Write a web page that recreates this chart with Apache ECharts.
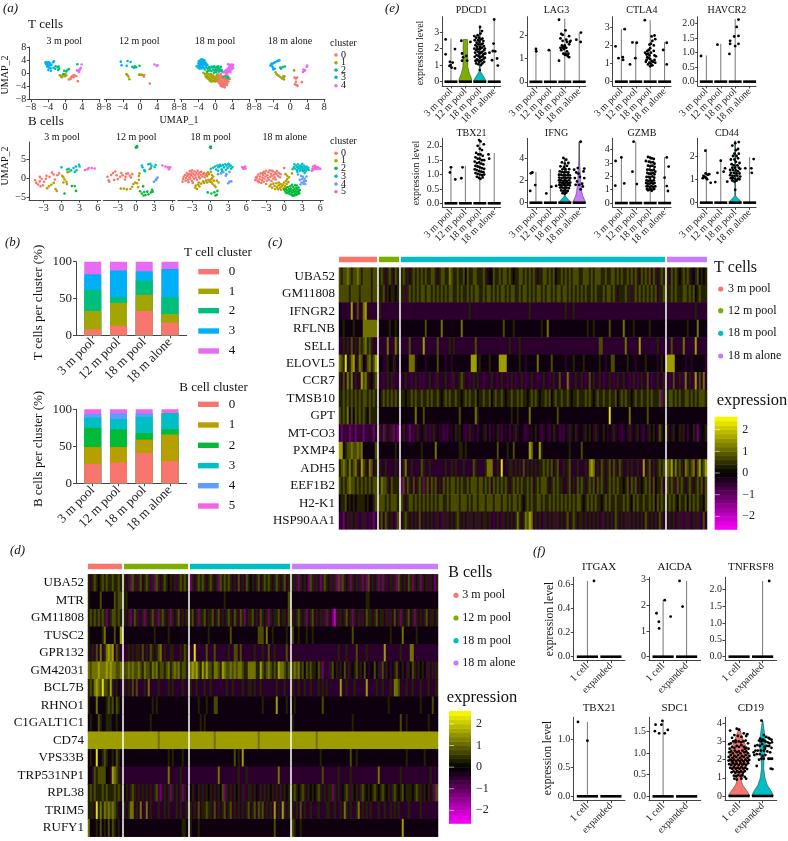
<!DOCTYPE html>
<html>
<head>
<meta charset="utf-8">
<title>T and B cell clusters</title>
<script src="https://cdn.jsdelivr.net/npm/echarts@6/dist/echarts.min.js"></script>
<style>
html,body{margin:0;padding:0;background:#fff}
#chart{width:788px;height:841px}
</style>
</head>
<body>
<div id="chart"></div>
<script>
// ---- names
const ageGroups = ['3 m pool', '12 m pool', '18 m pool', '18 m alone'];
const cloneGroups = ['1 cell', 'expanded'];
const tClusterColors = ['#F8766D', '#A3A500', '#00BF7D', '#00B0F6', '#E76BF3'];
const bClusterColors = ['#F8766D', '#B79F00', '#00BA38', '#00BFC4', '#619CFF', '#F564E3'];
const ageColors = ['#F8766D', '#7CAE00', '#00BFC4', '#C77CFF'];
const cloneColors = ['#F8766D', '#00BFC4'];

// ---- panel a, UMAP points, one list per cluster
const tUmap3m = [
  [[0.9,-1.9],[1.3,-1.7],[1.6,-1.0],[1.9,-0.7],[2.2,-0.5],[1.4,-1.3],[2.0,-1.2],[3.0,-2.4],[2.6,-0.9]],
  [[-1.2,-0.6],[-0.9,-1.0],[-0.6,-0.7],[-0.3,-0.4],[0.1,-0.2],[-0.7,-1.2],[0,-0.9],[0.3,-0.6]],
  [[-2.2,2.2],[-1.7,1.9],[-1.4,1.4],[-1.5,2.1],[-2.3,1.4],[-0.2,0.8],[0.3,0.6],[0.9,1.3],[0.6,1.0],[-0.4,-0.2],[2.9,2.8],[-1.6,1.0]],
  [[-4.6,3.3],[-4.3,3.5],[-4.1,3.1],[-3.8,3.4],[-3.5,3.0],[-4.4,2.8],[-4.0,2.6],[-3.6,2.4],[-3.2,2.6],[-4.2,2.1],[-3.8,1.8],[-3.4,1.6],[-3.9,1.0],[-3.3,0.8],[-2.8,3.4],[-2.6,3.7],[-2.7,1.7]],
  [[2.8,0.9],[3.1,0.7],[3.4,1.2],[3.7,1.7],[3.3,0.4],[3.9,2.7],[3.5,1.1]]
];
const tUmap12m = [
  [[0.9,-1.0],[1.0,-0.5],[2.3,-3.1]],
  [[-3.2,-0.2],[-3.0,-0.5],[-2.7,-1.0],[-2.5,-1.8],[-0.2,-0.4],[0.2,-0.4],[0.6,-0.5]],
  [[-1.8,2.0],[-1.4,1.7],[-1.2,2.2],[-0.9,1.9],[-0.1,2.3]],
  [[-4.5,3.6],[-2.9,3.8],[-2.2,3.5],[-4.3,2.5],[-3.1,2.3]],
  [[3.4,2.7],[3.9,2.3],[4.1,2.5]]
];
const tUmap18m = [
  [[0.5,-2.5],[0.9,-3.0],[1.2,-3.4],[1.6,-3.7],[2.0,-3.9],[2.4,-3.6],[2.8,-3.1],[3.1,-2.5],[3.4,-1.7],[0.8,-2.2],[1.2,-2.6],[1.6,-3.0],[2.0,-3.2],[2.4,-2.9],[2.8,-2.4],[3.0,-1.8],[0.7,-1.5],[1.1,-1.9],[1.5,-2.3],[1.9,-2.6],[2.3,-2.2],[2.6,-1.8],[0.8,-0.9],[1.2,-1.3],[1.6,-1.6],[2.0,-1.9],[2.4,-1.5],[1.1,-0.6],[1.5,-0.9],[1.9,-1.3],[2.2,-0.8],[0.6,-0.3],[1.3,-3.9],[1.7,-4.1],[2.2,-4.3],[1.5,-2.7],[2.1,-3.5],[0.3,-1.1],[2.7,-3.6],[1.8,-3.4],[1.0,-2.5],[2.5,-2.5],[1.3,-0.2],[2.9,-0.7]],
  [[-2.8,0.2],[-2.5,-0.2],[-2.2,-0.4],[-1.9,-0.9],[-1.6,-1.2],[-1.3,-1.6],[-1.0,-1.9],[-0.7,-2.2],[-0.3,-2.4],[0,-2.5],[0.2,-2.1],[-1.9,0],[-1.5,-0.3],[-1.2,-0.7],[-0.9,-1.1],[-0.6,-1.4],[-0.2,-1.7],[0.1,-1.3],[-0.6,-0.6],[-1.0,-0.2],[-2.3,-1.0],[-1.6,-1.8],[-0.9,-2.6],[-0.4,-0.9],[0.3,-0.7],[-1.3,-2.3],[-0.1,-2.1],[-2.0,-1.4],[0.5,-1.8]],
  [[-2.5,1.2],[-2.1,1.8],[-1.8,1.4],[-1.5,1.9],[-1.2,1.5],[-0.9,2.1],[-0.6,1.8],[-0.3,2.2],[0,1.7],[0.3,2.0],[0.6,1.6],[-1.7,0.8],[-1.3,0.9],[-0.9,0.7],[-0.5,1.2],[-0.2,0.8],[0.1,1.1],[0.4,0.9],[0.8,1.2],[1.1,1.5],[1.2,0.8],[0.9,0.5],[0.2,0.3],[-0.3,0.2],[1.5,1.0],[1.7,0.4],[1.3,2.0],[-2.0,0.5],[2.8,-1.5],[3.1,-1.2],[1.9,-1.1],[2.5,-0.9],[0.7,2.2]],
  [[-4.1,1.8],[-4.4,2.2],[-3.9,2.4],[-3.6,2.0],[-3.2,1.6],[-3.0,2.0],[-2.7,1.7],[-4.0,3.0],[-3.7,3.2],[-3.4,3.0],[-3.1,3.3],[-2.8,3.0],[-2.5,2.7],[-3.9,3.7],[-3.6,3.8],[-3.3,3.9],[-3.0,3.8],[-2.7,3.6],[-3.5,4.2],[-3.2,4.3],[-2.9,4.2],[-2.6,4.0],[-3.8,2.7],[-3.5,2.5],[-3.2,2.7],[-2.9,2.4],[-3.4,3.5],[-3.1,3.6],[-2.4,3.4],[-2.2,3.0],[-1.9,2.6],[-3.7,1.4],[-2.2,2.3]],
  [[2.4,0.2],[2.7,0.6],[3.0,1.0],[3.3,1.3],[3.6,1.7],[3.9,2.1],[4.2,2.6],[3.8,2.7],[3.4,2.6],[2.9,0.2],[3.2,0.5],[3.5,0.9],[3.9,1.3],[2.2,0.7],[2.6,1.1],[3.0,1.5],[3.3,2.0],[3.7,2.3],[4.1,1.9],[2.6,-0.2],[2.0,0.3],[3.6,0.4],[3.0,2.8],[4.2,1.6]]
];
const tUmapAlone = [
  [[1.0,-1.3],[1.3,-1.6],[1.6,-1.3],[1.1,-3.4],[1.5,-3.6],[1.7,-3.9],[2.7,-2.7],[1.3,-2.6]],
  [[-3.5,0.3],[-3.2,-0.3],[-2.8,-0.7],[-2.4,-1.1],[-2.0,-1.6],[-1.6,-1.3],[-1.5,-1.9],[-1.4,-0.9],[-1.7,-1.0],[0.9,0.9]],
  [[-2.4,1.8],[-2.2,1.4],[-1.8,1.9],[-1.3,2.1]],
  [[-4.7,2.4],[-4.5,2.9],[-4.2,3.0],[-3.9,3.2],[-3.6,3.4],[-3.2,3.7],[-2.9,3.9],[-2.6,4.0],[-4.3,2.2],[-4.1,1.7],[-4.0,1.2],[-3.7,1.4]],
  [[3.0,0.4],[3.3,0.8],[3.5,1.0],[3.9,2.0],[4.0,2.4],[3.1,1.2]]
];
const bUmap3m = [
  [[-4.4,-0.6],[-4.2,-1.3],[-3.9,-1.7],[-3.5,-2.2],[-3.1,-1.9],[-2.9,-1.0],[-3.6,-0.9],[-3.3,-0.2],[-3.6,0.3],[-2.6,-0.2],[-2.0,0.3],[-1.6,1.4],[-1.3,0.9],[-0.7,0.7],[-0.4,1.2],[-1.1,-0.4],[-2.5,0.6]],
  [[-2.4,-2.7],[-2.1,-2.2],[-1.7,-1.8],[-1.3,-1.3],[-1.0,-2.9],[-0.8,-3.4],[0.1,0.6],[0.3,0.2],[0.5,-0.4],[0.8,-1.0],[0.9,-1.6],[0.3,-1.2],[1.0,1.5],[1.3,1.7]],
  [[0.5,-4.1],[1.7,-2.1],[2.2,-2.1],[2.4,-3.4]],
  [[0,2.8],[0.9,2.2],[1.2,2.4],[1.6,2.0],[2.0,2.6],[2.4,3.0],[2.9,3.5],[2.5,2.0],[3.0,3.0],[2.2,1.6]],
  [],
  [[3.9,2.1],[4.5,2.6],[5.0,2.6],[5.5,2.5],[4.3,2.3]]
];
const bUmap12m = [
  [[-4.7,0.3],[-4.5,-0.6],[-4.4,-1.0],[-4.1,0.8],[-3.8,1.3],[-3.4,1.7],[-3.2,0.7],[-3.0,-0.3],[-2.6,0.3],[-2.4,1.3],[-2.2,0.7],[-1.8,-0.4],[-1.6,1.1],[-1.3,1.2],[-1.0,0.6],[-0.6,1.0],[-0.8,0.1],[-1.7,0.3],[-3.6,-0.5]],
  [[-2.5,-2.8],[-2.0,-2.8],[-1.5,-3.0],[-0.9,-2.9],[-0.6,-2.3],[-0.4,-1.6],[-0.1,-1.2],[0.2,-1.4],[0.5,-0.5],[0.5,0.5],[0.6,1.2],[2.3,2.3],[0.4,-2.4]],
  [[0.1,8.2],[0.2,8.4],[0.0,8.0],[0.2,8.1],[0.7,-3.5],[1.0,-4.1],[1.4,-3.7],[1.6,-4.5],[1.9,-3.6],[2.1,-4.3],[2.5,-3.8],[2.7,-3.1],[2.8,-3.6],[1.3,-4.6],[1.2,-2.2]],
  [[1.0,3.3],[1.1,2.8],[1.4,2.1],[1.5,1.8],[2.1,3.6],[2.4,3.7],[2.6,3.2],[3.3,3.4],[3.1,2.9],[2.5,2.6]],
  [[3.0,-1.0],[3.3,-0.6],[3.4,-0.3],[3.6,0.1]],
  [[4.4,3.3],[4.9,3.0],[5.3,2.8],[5.5,2.3],[5.7,2.8]]
];
const bUmap18m = [
  [[-4.6,-1.0],[-4.5,-0.3],[-4.4,0.3],[-4.2,0.8],[-4.1,-0.7],[-4.0,0.0],[-3.9,1.3],[-3.8,0.5],[-3.7,-0.5],[-3.6,-1.1],[-3.5,1.0],[-3.4,1.8],[-3.4,0.2],[-3.3,-0.3],[-3.2,0.8],[-3.1,1.4],[-3.0,2.0],[-3.0,-0.8],[-2.9,0.4],[-2.8,1.1],[-2.7,-0.2],[-2.6,1.7],[-2.5,0.7],[-2.4,0.1],[-2.3,1.3],[-2.2,-0.5],[-2.1,1.9],[-2.0,0.9],[-1.9,0.3],[-1.8,1.4],[-1.7,-0.1],[-1.6,0.8],[-1.5,1.6],[-1.3,0.4],[-1.2,1.0],[-1.0,1.3],[-0.9,0.2],[-0.8,0.8],[-0.6,1.1],[-3.7,0.9],[-2.9,-1.3]],
  [[-2.5,-2.5],[-2.4,-2.0],[-2.2,-2.9],[-2.0,-1.7],[-1.9,-1.2],[-1.8,-2.2],[-1.5,-1.5],[-1.2,-0.9],[-1.0,-1.3],[-0.7,-0.7],[-0.5,-1.2],[-0.3,-0.5],[-0.1,-0.9],[0.1,-0.4],[0.2,-1.1],[0.3,-0.1],[0.4,-1.6],[0.6,-0.7],[0.7,-2.0],[0.9,-2.4],[0.3,0.8],[-0.2,1.0],[-0.4,1.5],[0.1,1.6],[0.5,0.4],[1.1,-0.7],[1.4,-1.2],[-0.5,0.5]],
  [[0.1,8.3],[0.0,8.1],[0.1,7.9],[-0.4,-3.8],[0.2,-4.1],[0.7,-3.8],[1.1,-4.4],[1.2,-3.4],[0.9,-4.6]],
  [[0.1,2.4],[0.5,2.7],[0.8,3.0],[1.0,2.2],[1.2,3.3],[1.4,2.8],[1.6,3.5],[1.8,3.1],[1.9,2.3],[2.1,3.4],[2.3,2.8],[2.5,3.6],[2.7,3.2],[2.9,2.6],[3.0,3.6],[3.2,3.0],[3.4,3.3],[3.5,2.4],[3.7,2.9],[2.0,1.8],[1.3,1.9],[2.6,2.1],[3.1,3.7],[1.5,3.2]],
  [[1.8,1.2],[2.2,1.5],[2.7,1.0],[3.2,1.6],[3.0,-1.4],[3.2,-1.0],[3.5,-0.9],[2.6,0.6],[1.3,1.0]],
  [[5.3,2.9],[5.5,2.7],[5.7,2.6],[5.9,2.5],[5.5,2.4],[5.8,3.0]]
];
const bUmapAlone = [
  [[-4.8,-0.6],[-4.7,0.1],[-4.6,-0.2],[-4.5,0.4],[-4.4,-0.8],[-4.3,0.9],[-4.2,-1.1],[-4.1,-0.3],[-4.0,0.4],[-3.9,1.2],[-3.8,-1.3],[-3.7,-0.6],[-3.6,0.1],[-3.5,0.8],[-3.4,1.6],[-3.4,-1.0],[-3.3,-0.2],[-3.2,1.2],[-3.1,0.4],[-3.0,1.9],[-3.0,-1.6],[-2.9,-0.7],[-2.8,0.7],[-2.7,0.0],[-2.6,1.5],[-2.5,-0.5],[-2.4,2.0],[-2.3,0.3],[-2.2,1.1],[-2.1,-0.8],[-2.0,0.6],[-1.9,1.7],[-1.8,-0.2],[-1.7,0.9],[-1.6,0.2],[-1.5,1.4],[-1.4,-0.4],[-1.3,1.0],[-1.2,1.8],[-1.0,0.5],[-0.9,1.3],[-0.7,0.2],[-0.6,1.0],[0,2.6],[-3.6,1.2],[-2.0,1.9]],
  [[-2.4,-2.2],[-2.2,-1.7],[-2.0,-2.6],[-1.8,-1.5],[-1.6,-2.1],[-1.5,-2.9],[-1.3,-1.4],[-1.2,-2.4],[-1.0,-3.0],[-0.9,-1.9],[-0.7,-2.6],[-0.6,-1.6],[-0.5,-3.1],[-0.4,-2.2],[-0.2,-1.7],[-0.1,-2.7],[0,-1.2],[0.1,-2.1],[0.3,-0.8],[0.4,-1.6],[0.5,-0.3],[0.7,-1.1],[0.3,-2.5],[-0.9,-1.2],[0.5,0.6],[0.2,1.0],[1.3,1.2],[0.8,0.2]],
  [[0,-3.1],[0.2,-3.6],[0.3,-2.9],[0.4,-4.0],[0.5,-3.3],[0.6,-2.4],[0.7,-3.8],[0.8,-3.0],[0.9,-4.2],[1.0,-2.2],[1.1,-3.5],[1.1,-2.8],[1.2,-4.4],[1.3,-3.9],[1.3,-1.8],[1.4,-3.2],[1.5,-2.4],[1.5,-4.5],[1.6,-3.6],[1.7,-2.9],[1.8,-4.1],[1.8,-1.9],[1.9,-3.4],[2.0,-4.5],[2.0,-2.6],[2.1,-3.8],[2.2,-3.0],[2.3,-4.2],[2.4,-3.5],[2.4,-2.5],[2.5,-4.0],[2.6,-3.2],[1.4,-4.7],[0.9,-3.5],[1.7,-4.6],[2.1,-2.0]],
  [[1.4,2.3],[1.6,2.9],[1.7,3.6],[1.8,2.5],[2.0,3.2],[2.1,2.1],[2.2,2.8],[2.3,3.6],[2.4,2.4],[2.5,3.1],[2.6,1.9],[2.7,2.6],[2.8,3.3],[2.9,2.2],[3.0,2.9],[3.1,1.8],[3.2,2.5],[3.3,3.2],[3.4,2.1],[3.5,2.7],[3.6,1.8],[3.7,3.0],[3.8,2.3],[4.0,2.7],[4.1,2.1],[3.0,3.7],[2.2,1.6],[3.4,1.3]],
  [[2.3,0.9],[2.6,-0.5],[2.8,0.5],[2.9,-1.2],[3.0,-0.3],[3.1,0.3],[3.2,-1.5],[3.3,-0.9],[3.4,-0.2],[3.5,-1.6],[3.6,-0.8],[3.7,0.4],[2.7,-1.7]],
  [[4.6,1.9],[4.7,2.4],[4.8,3.0],[4.9,2.2],[5.0,2.7],[5.1,3.3],[5.2,2.5],[5.3,2.9],[5.4,2.3],[5.6,2.8],[5.8,2.5],[6.0,2.4]]
];

// ---- panel b, percent of cells per cluster, each list is one age group read bottom to top
const tClusterShare = [[8,25,29,21,17],[13,31,8,36,12],[33,22,19,13,13],[17,12,23,38,10]];
const bClusterShare = [[26,23,26,14,5,6],[28,21,24,14,8,5],[41,18,9,22,5,5],[30,36,7,22,0,5]];

// ---- panels c and d, one string per gene, each digit is an index into exprLevels
const exprLevels = [-2, -1.1, -0.65, -0.45, -0.15, 0.35, 0.75, 1.15, 1.6, 2.3];
const cGenes = ['UBA52','GM11808','IFNGR2','RFLNB','SELL','ELOVL5','CCR7','TMSB10','GPT','MT-CO3','PXMP4','ADH5','EEF1B2','H2-K1','HSP90AA1'];
const cGroupSizes = [19, 10, 132, 20];
const cRows = [
  '6566765667656666566|5653565365|5655356565 6565566535 6655765565 5646556655 5653446556 5665654556 6565656535 5665656455 6565656665 5666565666 5565566565 6556565653 6565636535 65|53656545656534564545',
  '6666656666566666566|5563545545|5525656565 6656656565 6565665565 6556565665 5656656565 6656566556 5665656566 5656656566 5665656565 6565565655 5656656535 5565525656 5656565635 56|55656555665656456555',
  '4333338336337833333|5333333333|3333333333 3333333333 3333333333 3333533333 3333333333 3333333333 3333533333 3333333333 3353335333 3333333333 3333333333 3333333333 3333333333 33|33333333333333533333',
  '4454444544447777777|4444454454|4444444444 4464444444 7444444444 7444444444 4444444444 4644445444 4444444444 5447444444 4444444444 4445445444 4444644444 4744445444 4444544444 44|44444444445444474444',
  '3353536353656756533|3333733375|3333633333 3833333363 3333535333 3333333633 3333333333 3333533335 3333333333 3333333333 3333333333 3333333336 6333333333 3373333338 3333333353 33|33633333733333833333',
  '7659357835764367568|4433544534|4444777344 4434444464 4434434444 4444488845 4444544448 8884444445 4434444474 4444464444 4434445444 4544444445 4434466444 4445444344 4454444434 54|88884444434434444443',
  '5363757353386753456|3323535233|3353323532 3233533253 3353325335 6533235353 3233353323 5332353233 5323353323 3533235336 3337233533 5323635335 3233532353 3533235323 5336323353 35|32363353273532836373',
  '5565656565656656565|4565656565|5545565655 6556565565 4565655655 4565655645 5655645655 6545565565 6554565654 5565645655 6556545565 5565654565 5655655645 6565545655 6556565556 15|56656565566565656665',
  '6565746465656546555|4444444444|4444444744 4644444444 4444444446 4444444754 4444444444 4444454454 4444744444 4444444464 4444444444 4444444444 4444944444 4444744444 4446444444 44|44444444444444444444',
  '3132312313231323313|5315325131|3533132353 4353235343 3232434535 4323533424 4354243453 2434243534 4323434543 2343245342 3243534534 4354543534 4543435343 2343534354 3243545436 54|54354453542445314445',
  '8845667667674444446|4444444454|4444444444 5444444744 4444444445 5454444444 4444444464 4445446444 4444874448 5444444444 4444544444 6444444444 4444444444 4444444444 4444444444 44|44444444444444444444',
  '5676575675386537635|5335333353|3573353333 6533533333 3353353533 3533336533 3357773353 9433553535 3635353535 5656563563 3535633353 3353787353 6535636536 5335353353 3835635356 56|76857565376567368568',
  '6565676656565656566|5766536555|1636536356 5156365635 3656566565 6556566656 6565636565 6565356565 6556563565 6665356565 5335635365 6535656365 6535656565 5456365635 4565636455 63|65652656535653565636',
  '4556454545555454456|6665656665|6535665656 5656565656 6556566665 6665656656 6656665666 5665656656 5456565566 5655656565 6565656566 5456565655 4565655655 5656546565 5655656465 65|56565465564656565546',
  '2313525352325232313|5636535326|3565353536 3535353253 2525353565 3535253525 3553532353 2535353575 3576873535 3253535253 5356356535 5353535353 2535353653 5352535353 5365353536 53|35353252325235252363'
];
const dGenes = ['UBA52','MTR','GM11808','TUSC2','GPR132','GM42031','BCL7B','RHNO1','C1GALT1C1','CD74','VPS33B','TRP531NP1','RPL38','TRIM5','RUFY1'];
const dGroupSizes = [17, 32, 50, 73];
const dRows = [
  '53565456565565565|5351652563 5652516535 6545352565 65|1535656535 6535165656 5353635365 4535635656 5356535635|5251535316 5253156535 2516165351 5352515163 5351515235 2516535365 1535153525 315',
  '54444464444446566|5544444444 4444444444 4444444444 44|4444444444 4444444544 4444444444 4444444444 4444444446|4444444444 4444444444 4444444444 4444444554 4444444444 4444444444 4444444444 444',
  '56565656513566565|5351365235 1535625156 5351535635 35|5635155635 5635635356 5365365135 5635365351 5355635536|5356535135 6353525153 1052535635 1535253655 3563553525 3635153563 5153535635 535',
  '54444445744446448|4444444444 4444454444 4454444444 44|4444444445 4444444444 6444444444 4444666474 4544444454|6445444544 5444444444 4444444444 6444444444 4444444445 4444474444 4454444444 444',
  '53536373578783653|3353535536 3536535673 5335533353 65|3393333363 3363333335 3366363333 3353335336 3353333363|3333333333 3333333333 3335333533 3363333533 3333338333 3333533337 7333333333 333',
  '76777877787877667|6676766765 7665767566 5675676756 65|7878658686 6577658766 7676776557 7775586567 6565877656|6767564656 5546513325 6453546353 4563546434 4645263542 4563454254 6535454253 525',
  '56578769665853543|5353636333 5373333533 3353533335 33|5335333533 5333333353 3533335335 5353353333 3335333533|5335335335 3335353533 3333833533 3533333833 3353353335 3776333533 5333533353 335',
  '54447444456564654|4444444444 4444545444 4444444444 44|4444544454 4466444444 4444444444 4444445444 4448444454|4544444444 4444464444 4444444444 4444444444 4444444454 4444444444 4444544444 644',
  '45444654455544544|4444444444 4445444444 4444444444 44|4444454544 4444444444 4444444444 4444444444 4444444444|5444444444 4444444444 4444444444 5444444444 4444444444 4444644544 4444444454 444',
  '88888888888888888|8888888888 8888888788 8888888888 88|8888888888 8878888888 8888888888 8888788888 8888888888|8888888888 8878888888 8888888888 8888888888 8888888888 8888888888 8888888888 888',
  '45449445654454654|4444444444 4444444444 4454544445 44|4444444444 4444444444 4464548444 4444444444 4444444444|4444444444 4444544444 4444444446 4454444444 4444444444 4444444544 4444445444 444',
  '44365666644387653|3333333333 3333333333 3373333353 33|3333333333 3333733333 3333533353 3333333333 3333733333|3333333333 3333363333 3335333335 3333333333 3337333333 3333533333 3333333335 333',
  '56565556565556565|4535653535 3535356213 5351535351 53|4534535354 5353546153 5354535235 5354353535 4535353545|5654565354 5456535355 1535345652 5453565454 5654565453 5654564555 4565535453 516',
  '55539575767676534|5357735373 3735333533 5353335353 35|5353635565 5363535635 6353535356 3563656353 5383538535|5353635335 3335333553 3533537535 3357353535 3335335335 3535333353 3333533333 333',
  '74445464546465454|4444444444 4444444444 4444444445 54|5444544444 4444444444 4444444444 4444444444 4464444444|6544544444 4444444444 4444444444 4444444444 4444444444 4444484444 4444444444 444'
];
const colorBands = [-2.6,-2.4,-2.2,-2,-1.8,-1.6,-1.4,-1.2,-1,-0.8,-0.6,-0.4,-0.2,0,0.2,0.4,0.6,0.8,1,1.2,1.4,1.6,1.8,2,2.2,2.4,2.6];

// ---- panel e, violin tops per gene and group, then the jittered cells
const eGenes = ['PDCD1','LAG3','CTLA4','HAVCR2','TBX21','IFNG','GZMB','CD44'];
const eTopValues = [[2.6,2.55,3.35,3.8],[1.4,1.35,2.7,2.1],[2.9,2.2,3.4,2.2],[0.9,1.3,2.15,0],[1.3,1.3,2.2,1.75],[2.75,3.0,4.0,5.45],[3.45,4.6,3.5,3.45],[2.3,1.85,2.65,1.95]];
const pdcd1GreenShape = [[0,0.45],[0.2,0.42],[0.5,0.28],[0.9,0.17],[2.55,0.15]];
const pdcd1TealShape = [[0,0.44],[0.15,0.38],[0.4,0.2],[0.65,0.03],[3.35,0.02]];
const ifngTealShape = [[0,0.44],[0.15,0.35],[0.35,0.2],[0.6,0.03],[4,0.02]];
const ifngPurpleShape = [[0,0.44],[0.3,0.36],[0.6,0.25],[1,0.18],[2,0.1],[3,0.06],[3.6,0.03],[5.45,0.01]];
const cd44TealShape = [[0,0.42],[0.08,0.36],[0.18,0.2],[0.3,0.03],[2.65,0.02]];
const ePoints = [
  [[-0.37,2.55],[-0.37,1.65],[0.28,1.97],[-0.07,1.2],[0.12,1.15],[-0.02,1.0],[-0.1,0.95],[0.05,0.85],[0.28,0.8],[0.72,2.47],[1.35,2.4],[0.77,1.7],[0.84,1.47],[1.07,1.55],[1.12,1.27],[0.77,1.27],
   [1.62,2.75],[1.65,2.5],[1.7,2.2],[1.62,2.0],[1.68,1.75],[1.65,1.5],[1.7,1.25],[1.75,2.65],[1.78,2.35],[1.8,2.1],[1.75,1.9],[1.78,1.6],[1.8,1.35],[1.75,1.1],[1.85,2.8],[1.88,2.5],[1.9,2.25],[1.85,2.0],[1.88,1.8],[1.9,1.55],[1.85,1.3],[1.9,1.05],[1.95,2.65],[1.98,2.4],[2.0,2.1],[1.95,1.95],[1.98,1.7],[2.0,1.45],[1.95,1.2],[2.0,0.7],[2.02,3.3],[2.05,2.9],[2.08,2.55],[2.1,2.25],[2.05,2.0],[2.08,1.75],[2.1,1.5],[2.05,1.25],[2.08,1.0],[2.15,3.05],[2.18,2.6],[2.2,2.3],[2.15,2.05],[2.18,1.8],[2.2,1.55],[2.15,1.3],[2.18,1.1],[2.25,2.45],[2.28,2.15],[2.3,1.9],[2.25,1.65],[2.28,1.4],[2.3,1.2],[2.35,2.0],[2.38,1.7],[2.35,1.45],
   [3,3.75],[2.95,2.3],[3.07,1.83],[2.67,1.75],[2.9,1.85],[3.2,1.4],[2.85,1.3],[3.25,0.97]],
  [[0,1.4],[0.02,1.3],[0.9,1.35],
   [1.6,2.65],[2.05,2.2],[1.75,2.05],[1.85,2.0],[2.3,1.95],[1.7,1.85],[2.1,1.8],[2.35,1.7],[1.8,1.55],[1.9,1.5],[2.0,1.55],[2.15,1.7],[2.3,1.6],[1.7,1.45],[1.85,1.45],[2.0,1.48],[2.1,1.45],[1.75,1.35],[1.95,1.4],[2.05,1.2],[2.1,1.15],[2.2,1.1],[2.25,1.2],[2.3,1.05],[1.9,1.2],[2.0,1.15],[1.6,0.9],[2.15,1.3],[2.4,1.75],[1.85,1.75],
   [2.8,1.8],[3.12,2.1],[3.1,1.7]],
  [[-0.4,1.95],[0.23,2.9],[-0.2,1.3],[0.1,1.35],[0.12,1.2],[0.6,0.95],[0.77,2.17],[1.07,2.15],[0.97,1.3],
   [1.63,3.4],[2.1,2.5],[2.3,2.55],[2.35,2.35],[2.15,2.25],[2.05,2.1],[1.95,2.05],[2.25,2.0],[2.0,1.85],[1.65,1.6],[1.8,1.7],[1.75,1.5],[1.85,1.55],[1.95,1.45],[2.05,1.6],[1.8,1.35],[1.9,1.3],[2.0,1.25],[1.75,1.2],[2.3,1.45],[2.4,1.4],[2.1,1.15],[2.2,1.1],[2.35,1.05],[1.95,1.05],[2.05,1.0],[1.85,0.95],[2.0,0.85],[2.15,0.9],[2.3,1.2],[1.7,1.1],[1.9,1.75],[2.25,1.7],
   [2.9,1.75],[3.15,2.15],[3.15,0.95]],
  [[-0.37,0.88],[0.77,1.27],[2.23,2.13],[2.1,1.88],[2.23,1.57],[1.93,1.55],[1.65,1.4],[1.65,1.3],[2.23,1.3],[2.0,1.22],[1.6,0.95]],
  [[0,1.25],[-0.07,1.07],[0.3,0.83],[0.72,0.87],[0.8,1.25],
   [1.95,2.2],[2.05,2.15],[2.28,2.05],[1.85,2.0],[2.0,1.9],[2.15,1.85],[1.75,1.75],[1.9,1.7],[2.05,1.7],[2.2,1.65],[1.7,1.6],[1.85,1.55],[2.0,1.55],[2.15,1.5],[2.3,1.5],[1.65,1.45],[1.8,1.4],[1.95,1.42],[2.1,1.38],[2.25,1.35],[1.7,1.3],[1.85,1.28],[2.0,1.25],[2.15,1.22],[2.3,1.2],[1.65,1.18],[1.8,1.15],[1.95,1.12],[2.1,1.1],[2.25,1.08],[1.7,1.05],[1.85,1.02],[2.0,1.0],[2.15,0.98],[2.3,1.0],[1.8,0.92],[1.95,0.88],[2.05,0.85],[2.2,0.9],
   [2.6,1.7],[2.65,1.55]],
  [[-0.35,2.63],[-0.25,2.7],[-0.05,1.58],[-0.4,1.05],[0.72,0.83],[1.07,1.43],[1.4,1.5],
   [1.9,4.0],[2.1,3.85],[1.8,3.6],[2.0,3.5],[2.25,3.55],[1.7,3.25],[1.95,3.2],[2.15,3.3],[1.85,3.0],[2.05,3.0],[2.3,3.0],[1.65,2.8],[1.8,2.75],[1.95,2.7],[2.1,2.75],[2.25,2.7],[1.6,2.5],[1.75,2.5],[1.9,2.45],[2.05,2.45],[2.2,2.5],[2.35,2.45],[1.62,2.25],[1.78,2.2],[1.92,2.25],[2.08,2.2],[2.22,2.25],[2.38,2.2],[1.6,2.0],[1.72,2.0],[1.88,1.95],[2.0,2.0],[2.15,1.95],[2.3,2.0],[1.65,1.8],[1.8,1.78],[1.95,1.75],[2.1,1.8],[2.25,1.75],[2.38,1.8],[1.62,1.6],[1.75,1.55],[1.9,1.6],[2.05,1.55],[2.2,1.6],[2.35,1.55],[1.68,1.35],[1.82,1.35],[1.98,1.3],[2.12,1.35],[2.28,1.3],[1.75,1.1],[1.9,1.05],[2.05,1.1],[2.2,1.05],[1.85,0.85],[2.0,0.8],[2.1,0.9],
   [3.1,5.45],[2.65,2.95],[2.9,3.1],[2.95,2.6],[3.3,2.8],[3.35,3.05],[3.05,2.3],[3.35,2.2],[2.8,2.7],[2.7,2.2],[2.85,1.9],[3.2,1.7],[3.0,1.6],[3.25,1.45],[2.75,1.6],[3.1,1.2]],
  [[-0.4,3.15],[0,3.42],[-0.42,1.3],[0.2,1.47],[0.77,2.35],[0.85,4.6],[1.07,1.42],
   [1.7,3.15],[1.85,3.45],[2.0,3.4],[2.12,3.35],[2.25,3.3],[1.9,3.1],[2.05,3.05],[2.2,3.05],[2.3,2.95],[1.85,2.8],[2.0,2.75],[2.15,2.8],[2.3,2.7],[1.8,2.5],[1.95,2.5],[2.1,2.45],[2.25,2.5],[2.35,2.35],[1.8,2.25],[1.92,2.2],[2.05,2.2],[2.18,2.25],[2.3,2.15],[1.75,1.95],[1.9,1.95],[2.0,1.9],[2.15,2.0],[2.28,1.9],[1.75,1.7],[1.88,1.65],[2.0,1.7],[2.12,1.65],[2.25,1.7],[1.72,1.5],[1.82,1.45],[1.95,1.45],[2.08,1.5],[2.2,1.45],[2.3,1.5],[1.75,1.25],[1.85,1.25],[1.98,1.2],[2.1,1.25],[2.22,1.2],[2.35,1.25],[1.78,1.05],[1.9,1.0],[2.02,1.05],[2.15,1.0],[2.28,1.05],[1.85,0.95],[2.1,0.92],
   [3.15,3.42],[3.28,2.73],[3,1.9],[3.15,1.27],[3.23,0.9]],
  [[-0.07,2.23],[-0.2,1.15],[-0.1,1.1],[0,1.05],[0.1,1.2],[0.2,1.22],[-0.05,1.25],[-0.25,1.05],[0.05,1.0],[0.3,0.85],[0.62,0.88],
   [1,1.8],[0.77,1.28],[1.2,1.33],[1.3,1.47],[1.45,0.9],
   [2.0,2.55],[2.25,2.6],[1.8,2.45],[2.05,2.25],[2.2,2.3],[1.95,2.1],[2.25,2.1],[1.85,2.0],[2.1,2.0],[2.2,1.9],[1.7,1.85],[1.95,1.85],[2.05,1.75],[2.3,1.7],[1.75,1.65],[1.9,1.6],[2.15,1.6],[1.8,1.5],[2.0,1.5],[2.25,1.5],[2.35,1.45],[1.65,1.4],[1.85,1.4],[2.05,1.38],[2.2,1.35],[1.7,1.28],[1.9,1.28],[2.1,1.25],[2.3,1.25],[1.65,1.18],[1.8,1.15],[1.95,1.15],[2.15,1.15],[2.35,1.12],[1.7,1.05],[1.85,1.05],[2.0,1.02],[2.2,1.03],[2.3,1.0],[1.8,0.95],[1.95,0.9],[2.1,0.95],[2.0,0.55],
   [3.28,1.87],[3.12,1.47],[3.15,1.28],[2.7,1.47]]
];
const eTicks = [[0,1,2,3],[0,1,2],[0,1,2,3],[0,0.5,1,1.5,2],[0,0.5,1,1.5,2],[0,2,4],[0,1,2,3,4],[0,1,2]];
const eYRanges = [[-0.26,3.92],[-0.18,2.78],[-0.24,3.59],[-0.15,2.23],[-0.14,2.26],[-0.41,5.76],[-0.32,4.85],[-0.2,2.76]];

// ---- panel f
const fGenes = ['ITGAX','AICDA','TNFRSF8','TBX21','SDC1','CD19'];
const fTopValues = [[0.63,0],[2.2,2.95],[0,2.25],[1.3,0],[1.74,0],[3.7,4.15]];
const cd19RedShape = [[0,0.45],[0.15,0.4],[0.6,0.15],[0.9,0.08],[1.3,0.2],[2,0.42],[2.7,0.3],[3.3,0.12],[3.7,0.02]];
const cd19TealShape = [[0,0.46],[0.2,0.4],[0.6,0.2],[1,0.1],[1.5,0.05],[2,0.06],[2.6,0.12],[3,0.13],[3.5,0.08],[4.15,0.01]];
const fPoints = [
  [[0.28,0.63]],
  [[-0.28,1.69],[-0.18,1.36],[-0.17,1.1],[0.07,2.2],[0.32,1.56],[0.7,2.95],[0.83,1.95]],
  [[1.28,2.25]],
  [[-0.4,1.3],[0,0.97]],
  [[-0.32,1.65],[-0.35,1.5],[-0.17,1.45],[-0.07,1.65],[-0.03,1.74],[0.07,1.45],[0.2,1.53]],
  [[-0.38,3.6],[-0.1,3.7],[0,3.65],[0.2,3.45],[0.3,3.3],[0.35,3.4],[-0.3,3.2],[-0.2,3.35],[-0.05,3.3],[0.1,3.25],
   [-0.42,2.85],[-0.35,2.9],[-0.25,3.0],[-0.15,3.05],[-0.02,3.0],[0.08,2.95],[0.18,3.0],[0.28,3.05],[0.38,2.9],[-0.4,2.6],[-0.3,2.7],[-0.2,2.65],[-0.1,2.75],[0,2.7],[0.1,2.8],[0.2,2.7],[0.3,2.65],[0.4,2.6],
   [-0.42,2.4],[-0.34,2.45],[-0.26,2.35],[-0.18,2.5],[-0.1,2.4],[-0.02,2.45],[0.06,2.35],[0.14,2.5],[0.22,2.4],[0.3,2.45],[0.38,2.35],[-0.44,2.15],[-0.36,2.25],[-0.28,2.1],[-0.2,2.2],[-0.12,2.15],[-0.04,2.25],[0.04,2.1],[0.12,2.2],[0.2,2.15],[0.28,2.25],[0.36,2.1],[0.44,2.2],
   [-0.45,1.95],[-0.37,2.0],[-0.29,1.9],[-0.21,2.0],[-0.13,1.9],[-0.05,2.0],[0.03,1.92],[0.11,1.98],[0.19,1.9],[0.27,2.0],[0.35,1.92],[0.43,1.98],[-0.42,1.75],[-0.34,1.7],[-0.26,1.8],[-0.18,1.72],[-0.1,1.78],[-0.02,1.7],[0.06,1.8],[0.14,1.72],[0.22,1.78],[0.3,1.7],[0.38,1.8],
   [-0.38,1.55],[-0.3,1.5],[-0.22,1.58],[-0.14,1.5],[-0.06,1.56],[0.02,1.5],[0.1,1.58],[0.18,1.5],[0.26,1.56],[0.34,1.48],[-0.32,1.3],[-0.24,1.35],[-0.16,1.28],[-0.08,1.36],[0,1.3],[0.08,1.35],[0.16,1.28],[0.24,1.36],[-0.22,1.12],[-0.12,1.08],[-0.04,1.15],[0.06,1.1],[0.14,1.14],[0.24,1.05],[-0.2,0.95],[-0.1,0.9],[0.1,0.95],[0.3,0.95],[-0.3,1.95],[0.25,2.6],[-0.15,2.95],
   [0.95,4.15],[1.05,3.35],[1.15,3.25],[1.25,3.2],[1.3,3.15],[1.38,3.1],[0.9,3.15],[0.85,3.05],[0.95,3.0],[1.05,3.05],[1.12,3.0],[1.22,2.95],[1.3,2.9],[1.4,2.95],[0.68,2.75],[0.78,2.8],[0.88,2.75],[0.98,2.85],[1.08,2.7],[1.18,2.75],[1.28,2.75],[1.38,2.65],[0.62,2.4],[0.7,2.5],[0.8,2.5],[0.92,2.5],[1.05,2.5],[1.2,2.45],[1.32,2.4],[0.65,2.25],[0.75,2.3],[0.88,2.3],[1.0,2.2],[1.12,2.25],[1.25,2.05],[1.32,2.05],[1.4,2.05],[0.85,2.0],[0.95,2.05],[1.05,2.05],[0.75,1.65],[1.35,1.5],[1.42,1.48],[1.1,2.6],[1.0,3.1]]
];
const fTicks = [[0,0.2,0.4,0.6],[0,1,2,3],[0,0.5,1,1.5,2],[0,0.5,1],[0,0.5,1,1.5],[0,1,2,3,4]];
const fYRanges = [[-0.033,0.66],[-0.156,3.09],[-0.12,2.36],[-0.077,1.38],[-0.1,1.82],[-0.26,4.33]];

// ---- building blocks
const serif = '"Liberation Serif"';
const grid = [], xAxis = [], yAxis = [], series = [], graphic = [];

function minus(v) { return String(v).replace('-', '\u2212'); }

function addGrid(left, top, right, bottom) {
  grid.push({ left: left, top: top, width: right - left, height: bottom - top });
  return grid.length - 1;
}

function valueAxis(gridIndex, range, ticks, opts) {
  opts = opts || {};
  return {
    type: 'value', gridIndex: gridIndex, min: range[0], max: range[1], scale: true,
    show: opts.show !== false,
    splitLine: { show: false },
    axisLine: { show: true, onZero: false, lineStyle: { color: '#444', width: 1 } },
    axisTick: { show: true, length: opts.tick || 2.5, inside: false, customValues: ticks, lineStyle: { color: '#444', width: 1 } },
    axisLabel: {
      show: true, customValues: ticks, fontFamily: serif, fontSize: opts.size || 10, color: '#222', margin: opts.margin || 3,
      rotate: opts.rotate || 0, formatter: opts.formatter || minus
    }
  };
}

function text(x, y, str, size, extra) {
  const e = extra || {};
  graphic.push({
    type: 'text', x: x, y: y, rotation: e.rotation || 0, silent: true,
    style: {
      text: str, fontFamily: serif, fontSize: size, fontStyle: e.italic ? 'italic' : 'normal', fill: e.color || '#111',
      align: e.align || 'left', verticalAlign: 'middle'
    }
  });
}

function dot(x, y, r, color) {
  graphic.push({ type: 'circle', silent: true, shape: { cx: x, cy: y, r: r }, style: { fill: color } });
}

function box(x, y, w, h, color) {
  graphic.push({ type: 'rect', silent: true, shape: { x: x, y: y, width: w, height: h }, style: { fill: color } });
}

function scatter(gridIndex, points, color, size) {
  series.push({
    type: 'scatter', xAxisIndex: gridIndex, yAxisIndex: gridIndex, silent: true, symbolSize: size,
    itemStyle: { color: color, opacity: 1 }, data: points
  });
}

// ---- panel a
function umapRow(facets, colors, lefts, rights, top, bottom, xRange, yRange, xTicks, yTicks, zeroOffset) {
  facets.forEach(function (clusters, f) {
    const g = addGrid(lefts[f], top, rights[f], bottom);
    xAxis.push(valueAxis(g, xRange, xTicks));
    const y = valueAxis(g, yRange, f === 0 ? yTicks : []);
    if (f > 0) { y.axisLine.show = false; y.axisTick.show = false; y.axisLabel.show = false; }
    yAxis.push(y);
    clusters.forEach(function (pts, c) { if (pts.length) scatter(g, pts, colors[c], 2.6); });
    text(lefts[f] + zeroOffset, 41 + (top > 100 ? 96.5 : 0), ageGroups[f], 10, { align: 'center' });
  });
}
umapRow([tUmap3m, tUmap12m, tUmap18m, tUmapAlone], tClusterColors, [29.3, 104.3, 180, 255], [100, 175, 250, 325], 47, 99.7, [-8.36, 8.2], [-8.1, 8.1], [-8, -4, 0, 4, 8], [-8, -4, 0, 4, 8], 35);
umapRow([bUmap3m, bUmap12m, bUmap18m, bUmapAlone], bClusterColors, [29, 103.3, 177.7, 251.7], [100.7, 175, 249.3, 323.3], 142, 200, [-5.4, 6.5], [-5.8, 9.47], [-3, 0, 3, 6], [-5, 0, 5], 33);
text(3, 9, '(a)', 13, { italic: true });
text(28, 25, 'T cells', 13);
text(28, 122, 'B cells', 13);
text(179, 120.5, 'UMAP_1', 10, { align: 'center' });
text(5, 75, 'UMAP_2', 10, { align: 'center', rotation: Math.PI / 2 });
text(5, 166, 'UMAP_2', 10, { align: 'center', rotation: Math.PI / 2 });
text(330, 43, 'cluster', 10);
text(330, 141.7, 'cluster', 10);
[55, 62.7, 70, 77.3, 85.7].forEach(function (y, i) { dot(336, y, 1.8, tClusterColors[i]); text(341, y, String(i), 10); });
[153.3, 160.7, 168.3, 176.3, 184, 191.7].forEach(function (y, i) { dot(336, y, 1.8, bClusterColors[i]); text(341, y, String(i), 10); });

// ---- panel b
// the x axis is a value axis, so the stack is built by hand and drawn top segment first
function stackedBars(share, colors, top, bottom) {
  const g = addGrid(76, top, 186.7, bottom);
  xAxis.push(valueAxis(g, [-0.65, 3.65], [0, 1, 2, 3], {
    rotate: 45, size: 13, margin: 5, tick: 3, formatter: function (v) { return ageGroups[v]; }
  }));
  yAxis.push(valueAxis(g, [0, 100], [0, 50, 100], { size: 13, margin: 4, tick: 3 }));
  for (let c = colors.length - 1; c >= 0; c--) {
    series.push({
      type: 'bar', xAxisIndex: g, yAxisIndex: g, barWidth: 17, barGap: '-100%', silent: true,
      itemStyle: { color: colors[c] },
      data: share.map(function (row, i) {
        let upTo = 0;
        for (let k = 0; k <= c; k++) upTo += row[k];
        return [i, upTo];
      })
    });
  }
}
stackedBars(tClusterShare, tClusterColors, 261.7, 335.3);
stackedBars(bClusterShare, bClusterColors, 409.3, 483.3);
text(5, 243, '(b)', 13, { italic: true });
text(39, 302.5, 'T cells per cluster (%)', 13, { align: 'center', rotation: Math.PI / 2 });
text(39, 449, 'B cells per cluster (%)', 13, { align: 'center', rotation: Math.PI / 2 });
text(184, 253, 'T cell cluster', 13);
text(179.3, 387.7, 'B cell cluster', 13);
[271.7, 291.3, 310.7, 331, 351].forEach(function (y, i) { box(198.3, y - 2.7, 20.7, 5.4, tClusterColors[i]); text(228.7, y, String(i), 13); });
[404.3, 425, 445.3, 465.7, 485.7, 506].forEach(function (y, i) { box(198, y - 2.7, 20.7, 5.4, bClusterColors[i]); text(228.7, y, String(i), 13); });

// ---- panels c and d
const heatSeries = [];

function heatmapBlock(genes, rows, sizes, box1, annotTop, barBox) {
  const data = [];
  let columns = 0;
  const spans = [];
  sizes.forEach(function (size, gi) {
    spans.push([columns, columns + size, gi]);
    columns += size + (gi < sizes.length - 1 ? 1 : 0);
  });
  rows.forEach(function (row, r) {
    const groups = row.replace(/ /g, '').split('|');
    spans.forEach(function (span) {
      const cells = groups[span[2]];
      for (let k = 0; k < span[1] - span[0]; k++) {
        const ch = cells[k] !== undefined ? cells[k] : cells[cells.length - 1];
        data.push([span[0] + k, r, exprLevels[+ch]]);
      }
    });
  });
  const cats = [];
  for (let i = 0; i < columns; i++) cats.push(String(i));

  const g = addGrid(box1[0], box1[1], box1[2], box1[3]);
  xAxis.push({ type: 'category', gridIndex: g, data: cats, show: false });
  yAxis.push({
    type: 'category', gridIndex: g, data: genes, inverse: true,
    axisLine: { show: false }, axisTick: { show: false },
    axisLabel: { interval: 0, fontFamily: serif, fontSize: 13, color: '#111', margin: 4 }
  });
  heatSeries.push(series.length);
  series.push({ type: 'heatmap', xAxisIndex: g, yAxisIndex: g, silent: true, progressive: 0, data: data });

  // group colour strip over the columns
  const a = addGrid(box1[0], annotTop, box1[2], annotTop + 5.5);
  xAxis.push({ type: 'value', gridIndex: a, min: 0, max: columns, show: false });
  yAxis.push({ type: 'value', gridIndex: a, min: 0, max: 1, show: false });
  series.push({
    type: 'custom', xAxisIndex: a, yAxisIndex: a, silent: true, encode: { x: [0, 1] },
    data: spans,
    renderItem: function (params, api) {
      const p0 = api.coord([api.value(0), 1]);
      const p1 = api.coord([api.value(1), 0]);
      return { type: 'rect', shape: { x: p0[0], y: p0[1], width: p1[0] - p0[0], height: p1[1] - p0[1] }, style: { fill: ageColors[api.value(2)] } };
    }
  });

  // colour bar with its own value axis
  const c = addGrid(barBox[0], barBox[1], barBox[2], barBox[3]);
  xAxis.push({ type: 'value', gridIndex: c, min: 0, max: 1, show: false });
  const yBar = valueAxis(c, [-2.6, 2.6], [-2, -1, 0, 1, 2], { size: 12, margin: 5 });
  yBar.position = 'right';
  yBar.axisLine.show = false;
  yBar.axisTick.inside = true;
  yBar.axisTick.length = 5;
  yBar.axisTick.lineStyle.color = 'rgba(255,255,255,0.55)';
  yAxis.push(yBar);
  heatSeries.push(series.length);
  const bands = [];
  for (let i = 0; i < colorBands.length - 1; i++) {
    bands.push([0, colorBands[i], (colorBands[i] + colorBands[i + 1]) / 2, colorBands[i + 1]]);
  }
  series.push({
    type: 'custom', xAxisIndex: c, yAxisIndex: c, silent: true, encode: { x: 0, y: [1, 3] },
    data: bands,
    renderItem: function (params, api) {
      const p0 = api.coord([0, api.value(3)]);
      const p1 = api.coord([1, api.value(1)]);
      const children = [{ type: 'rect', shape: { x: p0[0], y: p0[1], width: p1[0] - p0[0], height: p1[1] - p0[1] + 0.5 }, style: { fill: api.visual('color') } }];
      // left hand tick of the colour bar, the axis only draws the right one
      if (Math.abs(api.value(1) % 1) < 0.01) {
        children.push({ type: 'line', z2: 5, shape: { x1: p0[0], y1: p1[1], x2: p0[0] + 5, y2: p1[1] }, style: { stroke: 'rgba(255,255,255,0.55)', lineWidth: 1 } });
      }
      return { type: 'group', children: children };
    }
  });
}

heatmapBlock(cGenes, cRows, cGroupSizes, [339, 267.7, 707, 529.3], 256.7, [714.7, 416.7, 737.3, 529.3]);
heatmapBlock(dGenes, dRows, dGroupSizes, [88, 574.3, 438, 836.7], 563.7, [449, 711, 471, 823.3]);

function ageLegend(title, x, titleY, dotX, labelX, ys, exprX, exprY) {
  text(x, titleY, title, 16);
  ys.forEach(function (y, i) { dot(dotX, y, 2.6, ageColors[i]); text(labelX, y, ageGroups[i], 12); });
  text(exprX, exprY, 'expression', 16.5);
}
ageLegend('T cells', 714, 268, 720.7, 728, [289, 310.7, 333.3, 356], 716.7, 401);
ageLegend('B cells', 448.3, 572.3, 456, 462.3, [595.3, 618, 640.7, 663], 446.7, 697.7);
text(268, 243, '(c)', 13, { italic: true });
text(10, 551, '(d)', 13, { italic: true });

// ---- panels e and f
function violinPanel(left, top, right, bottom, title, titleY, titleSize, labels, xRange, yRange, ticks, tops, shapes, colors, points) {
  const g = addGrid(left, top, right, bottom);
  xAxis.push(valueAxis(g, xRange, labels.map(function (l, i) { return i; }), {
    rotate: 45, size: 10, margin: 4, formatter: function (v) { return labels[v]; }
  }));
  const decimals = ticks.some(function (t) { return t % 1 !== 0; }) ? 1 : 0;
  yAxis.push(valueAxis(g, yRange, ticks, { size: 10, formatter: function (v) { return v.toFixed(decimals); } }));
  series.push({
    type: 'custom', xAxisIndex: g, yAxisIndex: g, silent: true, clip: false, encode: { x: 0, y: 1 },
    data: tops.map(function (top, i) { return [i, top]; }),
    renderItem: function (params, api) {
      const i = api.value(0), topValue = api.value(1);
      const children = [];
      if (topValue > 0) {
        const a = api.coord([i, 0]), b = api.coord([i, topValue]);
        children.push({ type: 'line', shape: { x1: a[0], y1: a[1], x2: b[0], y2: b[1] }, style: { stroke: '#777', lineWidth: 1 } });
      }
      const shape = shapes[i];
      if (shape) {
        const left = shape.map(function (p) { return api.coord([i - p[1], p[0]]); });
        const right = shape.map(function (p) { return api.coord([i + p[1], p[0]]); }).reverse();
        children.push({ type: 'polygon', shape: { points: left.concat(right) }, style: { fill: colors[i], stroke: '#333', lineWidth: 0.5 } });
      }
      const s0 = api.coord([i - 0.45, 0]), s1 = api.coord([i + 0.45, 0]);
      children.push({ type: 'line', shape: { x1: s0[0], y1: s0[1], x2: s1[0], y2: s1[1] }, style: { stroke: '#000', lineWidth: 2.6 } });
      return { type: 'group', children: children };
    }
  });
  scatter(g, points, '#000', 2.8);
  text((left + right) / 2, titleY, title, titleSize, { align: 'center' });
}

const eLefts = [442.3, 527.3, 612.7, 697.7];
const eShapes = [{ 1: pdcd1GreenShape, 2: pdcd1TealShape }, {}, {}, {}, {}, { 2: ifngTealShape, 3: ifngPurpleShape }, {}, { 2: cd44TealShape }];
eGenes.forEach(function (gene, i) {
  const firstRow = i < 4;
  const left = eLefts[i % 4];
  violinPanel(left, firstRow ? 16.7 : 138.3, left + 58.4, firstRow ? 86 : 207.3, gene, firstRow ? 10 : 133.3, 10,
    ageGroups, [-0.6, 3.45], eYRanges[i], eTicks[i], eTopValues[i], eShapes[i], ageColors, ePoints[i]);
});
const fLefts = [573.3, 649, 725];
const fShapes = [{}, {}, {}, {}, {}, { 0: cd19RedShape, 1: cd19TealShape }];
fGenes.forEach(function (gene, i) {
  const firstRow = i < 3;
  const left = fLefts[i % 3];
  violinPanel(left, firstRow ? 577.3 : 717.3, left + 51.7, firstRow ? 660.7 : 800.7, gene, firstRow ? 566.7 : 707.7, 11,
    cloneGroups, [-0.6, 1.6], fYRanges[i], fTicks[i], fTopValues[i], fShapes[i], cloneColors, fPoints[i]);
});
text(385, 9, '(e)', 13, { italic: true });
text(533, 552, '(f)', 13, { italic: true });
text(420.7, 53, 'expression level', 10, { align: 'center', rotation: Math.PI / 2 });
text(416, 173, 'expression level', 10, { align: 'center', rotation: Math.PI / 2 });
text(550, 619, 'expression level', 11.5, { align: 'center', rotation: Math.PI / 2 });
text(547.7, 758, 'expression level', 11.5, { align: 'center', rotation: Math.PI / 2 });

// ---- chart
const chart = echarts.init(document.getElementById('chart'));
chart.setOption({
  animation: false,
  backgroundColor: '#fff',
  grid: grid,
  xAxis: xAxis,
  yAxis: yAxis,
  visualMap: {
    show: false, seriesIndex: heatSeries, dimension: 2, min: -2.6, max: 2.6,
    inRange: { color: ['#FF00FF', '#000000', '#FFFF00'] }
  },
  graphic: graphic,
  series: series
});
</script>
</body>
</html>
